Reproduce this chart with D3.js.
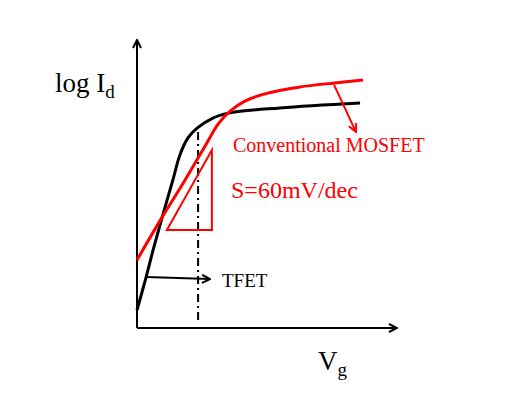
<!DOCTYPE html>
<html>
<head>
<meta charset="utf-8">
<script src="https://cdn.jsdelivr.net/npm/d3@7"></script>
<style>
  body { margin: 0; background: #fff; }
  text { font-family: "Liberation Serif", "Times New Roman", serif; }
</style>
</head>
<body>
<svg></svg>
<script>
var width = 519;
var height = 396;

// gate voltage (x) vs log drain current (y), arbitrary units 0..10
var tfet_vg = [0, 0.35, 0.62, 0.96, 1.38, 1.65, 1.96, 2.31, 2.92, 3.58, 5.5, 8.58];
var tfet_logid = [0.62, 1.77, 2.71, 3.82, 5.14, 6.01, 6.6, 6.94, 7.29, 7.47, 7.64, 7.81];

var mos_vg = [0, 0.88, 1.85, 2.62, 3.12, 3.58, 4.15, 4.92, 6.27, 7.62, 8.69];
var mos_logid = [2.36, 3.72, 5.14, 6.32, 7.08, 7.53, 7.88, 8.13, 8.37, 8.51, 8.61];

// slope triangle, threshold marker, annotation arrows
var tri_vg = [1.15, 2.88, 2.88];
var tri_logid = [3.4, 3.4, 6.18];
var vth = 2.35;
var vth_range = [0.28, 6.98];
var tfet_arrow = [[0.35, 1.77], [2.81, 1.7]];
var mos_arrow = [[7.58, 8.44], [8.42, 6.81]];

var svg = d3.select("svg")
    .attr("width", width)
    .attr("height", height);

var x = d3.scaleLinear().domain([0, 10]).range([137, 397]);
var y = d3.scaleLinear().domain([0, 10]).range([328, 40]);

var defs = svg.append("defs");
function chevron(id, color) {
  defs.append("marker")
      .attr("id", id)
      .attr("viewBox", "0 0 10 10")
      .attr("refX", 9)
      .attr("refY", 5)
      .attr("markerWidth", 10)
      .attr("markerHeight", 10)
      .attr("markerUnits", "userSpaceOnUse")
      .attr("orient", "auto")
    .append("path")
      .attr("d", "M1,1 L9,5 L1,9")
      .attr("fill", "none")
      .attr("stroke", color)
      .attr("stroke-width", 2);
}
chevron("arrowBlack", "#000");
chevron("arrowRed", "#f00");

// axes, no ticks, just arrows
var xAxis = svg.append("g")
    .attr("transform", "translate(0," + y(0) + ")")
    .call(d3.axisBottom(x).ticks(0).tickSizeOuter(0));
var yAxis = svg.append("g")
    .attr("transform", "translate(" + x(0) + ",0)")
    .call(d3.axisLeft(y).ticks(0).tickSizeOuter(0));
xAxis.select(".domain").attr("stroke", "#000").attr("stroke-width", 2)
    .attr("marker-end", "url(#arrowBlack)");
yAxis.select(".domain").attr("stroke", "#000").attr("stroke-width", 2)
    .attr("d", "M0," + y(0) + "V" + y(10))
    .attr("marker-end", "url(#arrowBlack)");
xAxis.select(".domain").attr("d", "M" + x(0) + ",0H" + x(10));

var line = d3.line()
    .x(function(d) { return x(d[0]); })
    .y(function(d) { return y(d[1]); })
    .curve(d3.curveCatmullRom);

// dash-dot threshold line
svg.append("line")
    .attr("x1", x(vth)).attr("x2", x(vth))
    .attr("y1", y(vth_range[0])).attr("y2", y(vth_range[1]))
    .attr("stroke", "#000")
    .attr("stroke-width", 2)
    .attr("stroke-dasharray", "8,4,2,4");

// slope triangle
svg.append("path")
    .attr("d", "M" + d3.zip(tri_vg, tri_logid).map(function(d) {
      return x(d[0]) + "," + y(d[1]);
    }).join("L") + "Z")
    .attr("fill", "none")
    .attr("stroke", "#f00")
    .attr("stroke-width", 2);

svg.append("path")
    .datum(d3.zip(tfet_vg, tfet_logid))
    .attr("d", line)
    .attr("fill", "none")
    .attr("stroke", "#000")
    .attr("stroke-width", 3);

svg.append("path")
    .datum(d3.zip(mos_vg, mos_logid))
    .attr("d", line)
    .attr("fill", "none")
    .attr("stroke", "#f00")
    .attr("stroke-width", 3);

svg.append("line")
    .attr("x1", x(tfet_arrow[0][0])).attr("y1", y(tfet_arrow[0][1]))
    .attr("x2", x(tfet_arrow[1][0])).attr("y2", y(tfet_arrow[1][1]))
    .attr("stroke", "#000").attr("stroke-width", 2)
    .attr("marker-end", "url(#arrowBlack)");

svg.append("line")
    .attr("x1", x(mos_arrow[0][0])).attr("y1", y(mos_arrow[0][1]))
    .attr("x2", x(mos_arrow[1][0])).attr("y2", y(mos_arrow[1][1]))
    .attr("stroke", "#f00").attr("stroke-width", 2)
    .attr("marker-end", "url(#arrowRed)");

// labels
var ylab = svg.append("text")
    .attr("x", 55).attr("y", 92)
    .attr("font-size", 27);
ylab.append("tspan").text("log I");
ylab.append("tspan").attr("font-size", 19).attr("dy", 6).text("d");

var xlab = svg.append("text")
    .attr("x", 318).attr("y", 370)
    .attr("font-size", 27);
xlab.append("tspan").text("V");
xlab.append("tspan").attr("font-size", 19).attr("dy", 6).text("g");

svg.append("text")
    .attr("x", 233).attr("y", 152)
    .attr("font-size", 20)
    .attr("fill", "#f00")
    .text("Conventional MOSFET");

svg.append("text")
    .attr("x", 231).attr("y", 198)
    .attr("font-size", 24)
    .attr("fill", "#f00")
    .text("S=60mV/dec");

svg.append("text")
    .attr("x", 222).attr("y", 287)
    .attr("font-size", 19)
    .text("TFET");
</script>
</body>
</html>
